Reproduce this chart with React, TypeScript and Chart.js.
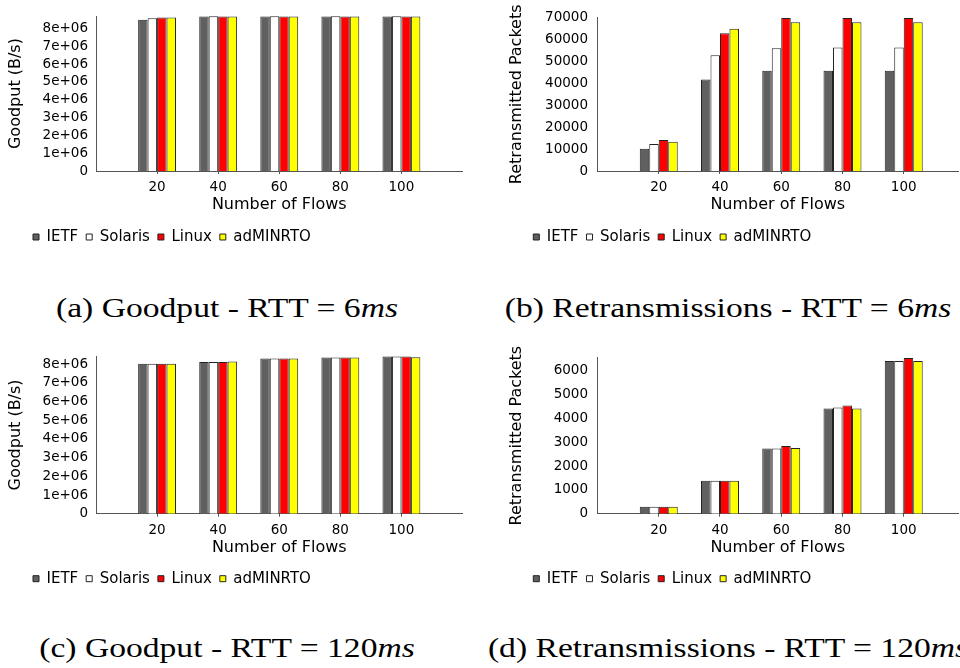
import React, { useEffect, useRef } from 'react';
import { Chart, registerables } from 'chart.js';

Chart.register(...registerables);

// ---------- data ----------
const categories = ['20', '40', '60', '80', '100'];
const seriesNames = ['IETF', 'Solaris', 'Linux', 'adMINRTO'];
const seriesColors = ['#606060', '#ffffff', '#ff0000', '#ffff00'];

// (a) Goodput - RTT = 6ms
const goodput6IETF = [8.49e6, 8.68e6, 8.68e6, 8.68e6, 8.68e6];
const goodput6Solaris = [8.58e6, 8.69e6, 8.69e6, 8.69e6, 8.69e6];
const goodput6Linux = [8.62e6, 8.68e6, 8.68e6, 8.68e6, 8.68e6];
const goodput6Admin = [8.62e6, 8.68e6, 8.68e6, 8.68e6, 8.68e6];

// (b) Retransmissions - RTT = 6ms
const retrans6IETF = [10200, 41800, 45800, 45800, 45800];
const retrans6Solaris = [12300, 52800, 56000, 56300, 56300];
const retrans6Linux = [14200, 62900, 69800, 69800, 69800];
const retrans6Admin = [13300, 64900, 67900, 67900, 67900];

// (c) Goodput - RTT = 120ms
const goodput120IETF = [8.02e6, 8.11e6, 8.3e6, 8.36e6, 8.41e6];
const goodput120Solaris = [8.02e6, 8.11e6, 8.3e6, 8.36e6, 8.41e6];
const goodput120Linux = [8.02e6, 8.11e6, 8.3e6, 8.36e6, 8.41e6];
const goodput120Admin = [8.02e6, 8.14e6, 8.3e6, 8.36e6, 8.37e6];

// (d) Retransmissions - RTT = 120ms
const retrans120IETF = [290, 1385, 2740, 4415, 6405];
const retrans120Solaris = [290, 1385, 2740, 4455, 6405];
const retrans120Linux = [290, 1385, 2840, 4540, 6530];
const retrans120Admin = [290, 1385, 2755, 4415, 6405];

// tick labels
const goodputTicks = [0, 1e6, 2e6, 3e6, 4e6, 5e6, 6e6, 7e6, 8e6];
const retrans6Ticks = [0, 10000, 20000, 30000, 40000, 50000, 60000, 70000];
const retrans120Ticks = [0, 1000, 2000, 3000, 4000, 5000, 6000];

const xTitle = 'Number of Flows';
const goodputTitle = 'Goodput (B/s)';
const retransTitle = 'Retransmitted Packets';

// ---------- styling ----------
const FONT = "'DejaVu Sans', sans-serif";
const AXIS = '#555555';
const BORDER = '#222222';
const CW = 480;
const CH = 260;

const fmtSci = (v: number) => (v === 0 ? '0' : `${Math.round(v / 1e6)}e+06`);
const fmtPlain = (v: number) => String(v);

type Spec = {
  L: number; T: number; PL: number; PR: number; PT: number; PB: number;
  LC: number; LB: number; YT: number; xMax: number; yPad: number;
};

function Panel(props: {
  spec: Spec;
  series: number[][];
  yMax: number;
  yTicks: number[];
  fmt: (v: number) => string;
  yTitle: string;
}) {
  const ref = useRef<HTMLCanvasElement | null>(null);
  const { spec, series, yMax, yTicks, fmt, yTitle } = props;

  useEffect(() => {
    if (!ref.current) return;
    const padL = spec.LB - spec.L - 8;
    const padR = spec.L + CW - spec.PR;
    const padT = spec.PT - spec.T;
    const legendTop = spec.LC - spec.T - 15.5;
    const xAxisH = legendTop - (spec.PB - spec.T);
    const padB = CH - (legendTop + 33);
    const yAxisW = spec.PL - spec.L - padL;
    const yTitlePadTop = spec.YT - spec.L - padL - 9.6;
    const xTitlePadB = xAxisH - 43.6;

    const chart = new Chart(ref.current, {
      type: 'bar',
      data: {
        datasets: series.map((vals, si) => ({
          label: seriesNames[si],
          data: vals.map((y, i) => ({ x: i + 1, y })),
          backgroundColor: seriesColors[si],
          borderColor: BORDER,
          borderWidth: 1,
          categoryPercentage: 0.62,
          barPercentage: 1,
        })),
      },
      options: {
        responsive: false,
        animation: false,
        devicePixelRatio: 1,
        layout: { padding: { left: padL, right: padR, top: padT, bottom: padB } },
        plugins: {
          legend: {
            position: 'bottom',
            align: 'start',
            labels: {
              boxWidth: 6,
              boxHeight: 6,
              padding: 8,
              color: '#000',
              font: { family: FONT, size: 15 },
            },
          },
          tooltip: { enabled: false },
        },
        scales: {
          x: {
            type: 'linear',
            offset: false,
            min: 0,
            max: spec.xMax,
            afterBuildTicks: (s: any) => {
              s.ticks = categories.map((_, i) => ({ value: i + 1 }));
            },
            afterFit: (s: any) => {
              s.height = xAxisH;
            },
            ticks: {
              callback: (v: any) => categories[Number(v) - 1] ?? '',
              color: '#000',
              font: { family: FONT, size: 13.5 },
              padding: 5.6,
              maxRotation: 0,
              autoSkip: false,
            },
            grid: {
              display: true,
              offset: false,
              drawOnChartArea: false,
              drawTicks: true,
              tickLength: 3,
              color: AXIS,
            },
            border: { display: true, color: AXIS, width: 1 },
            title: {
              display: true,
              text: xTitle,
              color: '#000',
              font: { family: FONT, size: 16 },
              padding: { top: 0, bottom: xTitlePadB },
            },
          },
          y: {
            min: 0,
            max: yMax,
            afterBuildTicks: (s: any) => {
              s.ticks = yTicks.map((v) => ({ value: v }));
            },
            afterFit: (s: any) => {
              s.width = yAxisW;
            },
            ticks: {
              callback: (v: any) => fmt(Number(v)),
              color: '#000',
              font: { family: FONT, size: 13.5 },
              padding: spec.yPad,
            },
            grid: { display: false, drawTicks: false },
            border: { display: true, color: AXIS, width: 1 },
            title: {
              display: true,
              text: yTitle,
              color: '#000',
              font: { family: FONT, size: 16 },
              padding: { top: yTitlePadTop, bottom: 0 },
            },
          },
        },
      } as any,
    });
    return () => chart.destroy();
  }, []);

  return (
    <div style={{ position: 'absolute', left: spec.L, top: spec.T, width: CW, height: CH }}>
      <canvas ref={ref} width={CW} height={CH} style={{ display: 'block' }} />
    </div>
  );
}

function Caption(props: { cx: number; cy: number; label: string; rtt: string }) {
  const { cx, cy, label, rtt } = props;
  return (
    <div
      style={{
        position: 'absolute',
        left: cx,
        top: cy - 16,
        height: 32,
        lineHeight: '32px',
        whiteSpace: 'nowrap',
        fontFamily: "'Liberation Serif', serif",
        fontSize: 28,
        color: '#000',
        transform: 'translateX(-50%) scaleX(1.2)',
        transformOrigin: 'center',
      }}
    >
      {label} - RTT = {rtt}
      <i>ms</i>
    </div>
  );
}

const specA: Spec = { L: 0, T: 0, PL: 96, PR: 462.5, PT: 14, PB: 171, LC: 237, LB: 33, YT: 15.5, xMax: 6, yPad: 8 };
const specB: Spec = { L: 480, T: 0, PL: 597.5, PR: 958, PT: 13.7, PB: 171, LC: 237, LB: 533.3, YT: 516.7, xMax: 5.886, yPad: 9.5 };
const specC: Spec = { L: 0, T: 340, PL: 96, PR: 462.5, PT: 355.7, PB: 513.7, LC: 578.7, LB: 33, YT: 15.5, xMax: 6, yPad: 8 };
const specD: Spec = { L: 480, T: 340, PL: 597.5, PR: 958, PT: 355.7, PB: 513.7, LC: 578.7, LB: 533.3, YT: 516.7, xMax: 5.886, yPad: 9.5 };

export default function App() {
  return (
    <div style={{ position: 'absolute', left: 0, top: 0, width: 960, height: 668, background: '#fff', overflow: 'hidden' }}>
      <Panel
        spec={specA}
        series={[goodput6IETF, goodput6Solaris, goodput6Linux, goodput6Admin]}
        yMax={8.7e6}
        yTicks={goodputTicks}
        fmt={fmtSci}
        yTitle={goodputTitle}
      />
      <Panel
        spec={specB}
        series={[retrans6IETF, retrans6Solaris, retrans6Linux, retrans6Admin]}
        yMax={70000}
        yTicks={retrans6Ticks}
        fmt={fmtPlain}
        yTitle={retransTitle}
      />
      <Panel
        spec={specC}
        series={[goodput120IETF, goodput120Solaris, goodput120Linux, goodput120Admin]}
        yMax={8.43e6}
        yTicks={goodputTicks}
        fmt={fmtSci}
        yTitle={goodputTitle}
      />
      <Panel
        spec={specD}
        series={[retrans120IETF, retrans120Solaris, retrans120Linux, retrans120Admin]}
        yMax={6550}
        yTicks={retrans120Ticks}
        fmt={fmtPlain}
        yTitle={retransTitle}
      />
      <Caption cx={226.5} cy={308} label="(a) Goodput" rtt="6" />
      <Caption cx={728} cy={308} label="(b) Retransmissions" rtt="6" />
      <Caption cx={226.5} cy={648} label="(c) Goodput" rtt="120" />
      <Caption cx={728} cy={648} label="(d) Retransmissions" rtt="120" />
    </div>
  );
}
